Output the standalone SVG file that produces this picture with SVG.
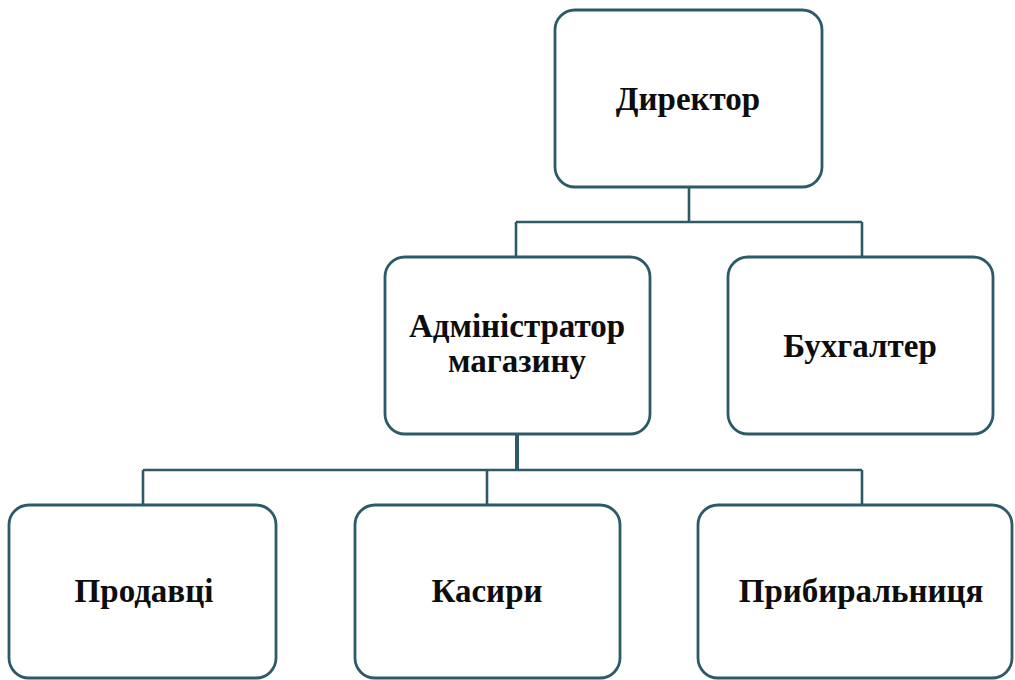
<svg xmlns="http://www.w3.org/2000/svg" width="1015" height="680" viewBox="0 0 1015 680">
<style>
.box{fill:#ffffff;stroke:#2d5a66;stroke-width:2.8}
.lbl{font-family:"Liberation Serif","Times New Roman",serif;font-weight:bold;font-size:33px;fill:#0d0d0d;text-anchor:middle}
.con{fill:none;stroke:#2d5a66;stroke-width:2.6}
</style>
<rect width="1015" height="680" fill="#ffffff"/>
<g id="connectors">
<path class="con" d="M689 187 V222 M516 222 H862 M516 222 V257 M862 222 V257"/>
<path class="con" d="M517 434 V470" style="stroke-width:4"/>
<path class="con" d="M143 470 H862 M143 470 V505 M487 470 V505 M862 470 V505"/>
</g>
<g id="director">
<rect class="box" x="555" y="10" width="267" height="177" rx="20"/>
<text class="lbl" x="688" y="110">Директор</text>
</g>
<g id="admin">
<rect class="box" x="385" y="257" width="265" height="177" rx="20"/>
<text class="lbl" x="517" y="337"><tspan x="517">Адміністратор</tspan><tspan x="517" dy="35">магазину</tspan></text>
</g>
<g id="accountant">
<rect class="box" x="728" y="257" width="265" height="177" rx="20"/>
<text class="lbl" x="860" y="357">Бухгалтер</text>
</g>
<g id="sellers">
<rect class="box" x="9" y="505" width="267" height="173" rx="20"/>
<text class="lbl" x="144" y="602">Продавці</text>
</g>
<g id="cashiers">
<rect class="box" x="355" y="505" width="265" height="173" rx="20"/>
<text class="lbl" x="487" y="602">Касири</text>
</g>
<g id="cleaner">
<rect class="box" x="698" y="505" width="314" height="173" rx="20"/>
<text class="lbl" x="861" y="602">Прибиральниця</text>
</g>
</svg>
